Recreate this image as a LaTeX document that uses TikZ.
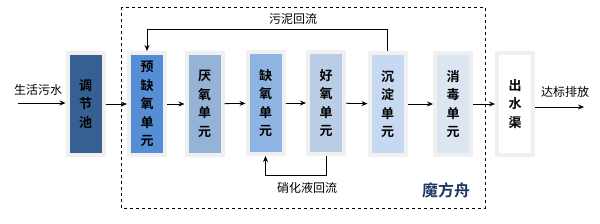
\documentclass[tikz,border=0pt]{standalone}
\usepackage{fontspec}
\setmainfont{Noto Sans CJK SC}[BoldFont={Noto Sans CJK SC Bold}]
\usetikzlibrary{arrows.meta,shadows}

\definecolor{tjblue}{HTML}{366092}
\definecolor{yqblue}{HTML}{558ED5}
\definecolor{yyblue}{HTML}{95B3D7}
\definecolor{qyblue}{HTML}{8DB4E2}
\definecolor{hyblue}{HTML}{B9CDE5}
\definecolor{cdblue}{HTML}{C6D9F1}
\definecolor{xdblue}{HTML}{DCE6F2}
\definecolor{mfzblue}{HTML}{1F3864}

\tikzset{
  unitbox/.style={draw=black!6, line width=4pt, outer sep=2pt,
    minimum width=36pt, minimum height=102pt, inner sep=0pt,
    align=center, font=\fontsize{13}{18.5}\selectfont\bfseries,
    drop shadow={shadow xshift=1pt, shadow yshift=-1pt, fill=black!30}},
  arr/.style={-{Stealth[length=6pt,width=5pt]}, line width=0.8pt},
  lbl/.style={font=\fontsize{12}{14}\selectfont}
}

\begin{document}
\begin{tikzpicture}[x=1pt,y=-1pt]
\useasboundingbox (0,0) rectangle (600,224);
\draw[dashed, line width=0.7pt] (121,7) rectangle (485,208);

\node[unitbox, fill=tjblue] (tjc) at (85.5,104) {调\\节\\池};
\node[unitbox, fill=yqblue] (yqy) at (147,104) {预\\缺\\氧\\单\\元};
\node[unitbox, fill=yyblue] (yy) at (204.5,104) {厌\\氧\\单\\元};
\node[unitbox, fill=qyblue] (qy) at (265.5,103) {缺\\氧\\单\\元};
\node[unitbox, fill=hyblue] (hy) at (326,103) {好\\氧\\单\\元};
\node[unitbox, fill=cdblue] (cd) at (387.5,104) {沉\\淀\\单\\元};
\node[unitbox, fill=xdblue] (xd) at (453,104) {消\\毒\\单\\元};
\node[unitbox, fill=white] (csq) at (515,104) {出\\水\\渠};

% inlet and outlet
\coordinate (in) at (18,103);
\coordinate (out) at (584,107);
\node[lbl] (sh) at (38,90) {生活污水};
\node[lbl] (db) at (565,92) {达标排放};
\draw[arr] (in) -- (tjc.west |- in);
\draw[arr] (csq.east |- out) -- (out);

% main flow
\draw[arr] (tjc) -- (yqy);
\draw[arr] (yqy) -- (yy);
\draw[arr] (yy) -- (qy);
\draw[arr] (qy) -- (hy);
\draw[arr] (hy) -- (cd);
\draw[arr] (cd) -- (xd);
\draw[arr] (xd) -- (csq);

% recirculation
\coordinate (top) at (0,29);
\coordinate (bot) at (0,175);
\draw[arr] (cd.north) -- (cd.north |- top) -| (yqy.north);
\draw[arr] (hy.south) -- (hy.south |- bot) -| (qy.south);
\node[lbl] (wn) at (293,19) {污泥回流};
\node[lbl] (xh) at (307,188) {硝化液回流};

\node[font=\fontsize{16}{18}\selectfont\bfseries, text=mfzblue] (mfz) at (446,190) {魔方舟};
\end{tikzpicture}
\end{document}
